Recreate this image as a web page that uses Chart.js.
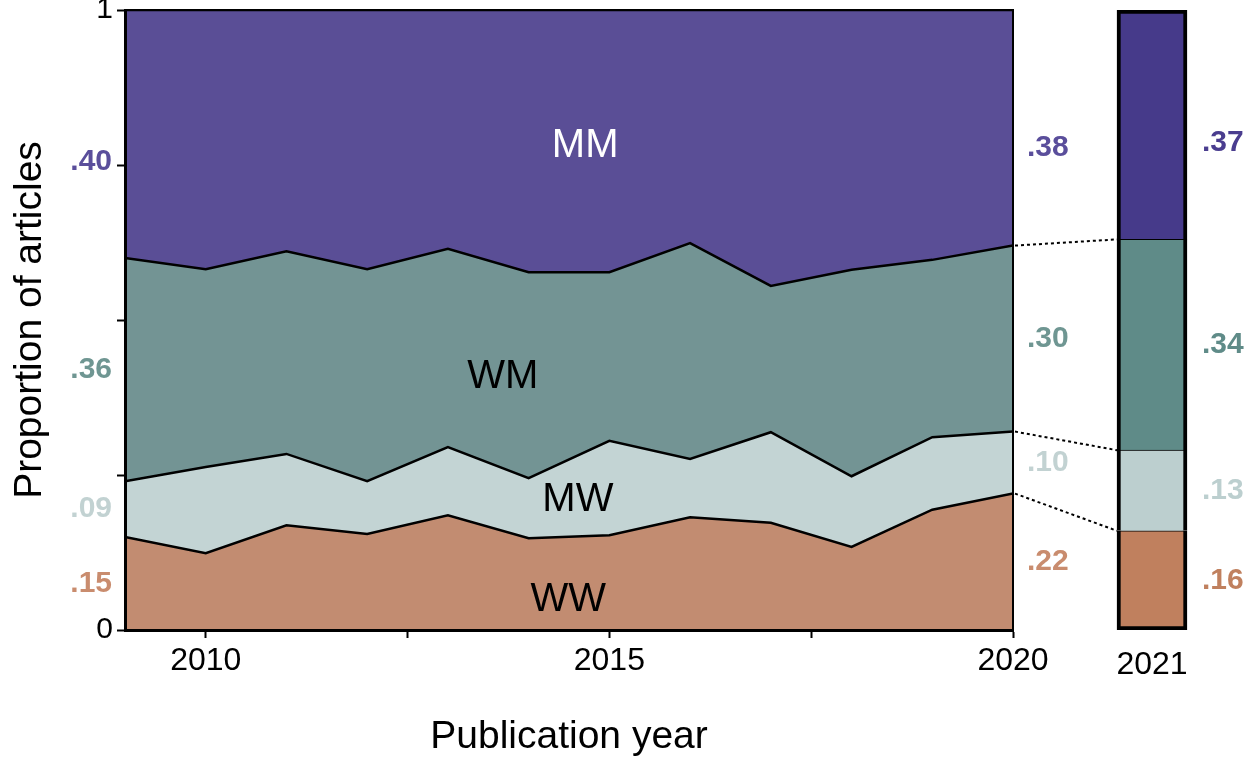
<!DOCTYPE html>
<html>
<head>
<meta charset="utf-8">
<script src="https://cdn.jsdelivr.net/npm/chart.js@4.4.1/dist/chart.umd.min.js"></script>
<style>
  body { margin: 0; background: #fff; }
  #wrap { position: relative; width: 1253px; height: 762px; }
  #wrap canvas { position: absolute; left: 0; top: 0; }
</style>
</head>
<body>
<div id="wrap">
  <canvas id="areaChart" width="1253" height="762"></canvas>
  <canvas id="barChart" width="1253" height="762"></canvas>
</div>
<script>
// data (proportion of articles per author-pair type)
const years = [2009, 2010, 2011, 2012, 2013, 2014, 2015, 2016, 2017, 2018, 2019, 2020];
const wwShare = [0.15, 0.124, 0.169, 0.155, 0.185, 0.148, 0.153, 0.182, 0.173, 0.134, 0.194, 0.22];
const mwShare = [0.09, 0.139, 0.115, 0.085, 0.110, 0.097, 0.152, 0.094, 0.146, 0.114, 0.117, 0.10];
const wmShare = [0.36, 0.319, 0.327, 0.342, 0.320, 0.332, 0.272, 0.348, 0.236, 0.333, 0.286, 0.30];
const mmShare = [0.40, 0.418, 0.389, 0.418, 0.385, 0.423, 0.423, 0.376, 0.445, 0.419, 0.403, 0.38];

const seriesNames = ["WW", "MW", "WM", "MM"];
const yearLabels2021 = ["2021"];
const share2021 = [0.16, 0.13, 0.34, 0.37]; // WW, MW, WM, MM

const xTicks = [2010, 2012.5, 2015, 2017.5, 2020];
const yTicks = [0, 0.25, 0.5, 0.75, 1];

// colours
const areaColors = ["#c28c71", "#c3d4d4", "#739494", "#5a4e96"];
const barColors = ["#c0805e", "#bccfcf", "#5f8b88", "#463a8a"];
const labelColors = ["#c98c6e", "#c2d2d2", "#6f9692", "#5a4e9b"];
const labelColors2021 = ["#c0805e", "#bccfcf", "#5f8b88", "#4a3d8f"];

// where the series names sit inside the areas (year, proportion)
const bandNames = [
    { text: "WW", year: 2014.49, value: 0.048, color: "#000" },
    { text: "MW", year: 2014.61, value: 0.21, color: "#000" },
    { text: "WM", year: 2013.68, value: 0.408, color: "#000" },
    { text: "MM", year: 2014.7, value: 0.78, color: "#fff" }
];

const FONT = "'Helvetica Neue', Helvetica, 'Liberation Sans', Arial, sans-serif";
const allShares = [wwShare, mwShare, wmShare, mmShare];

function fmt(v) {
    return v.toFixed(2).replace(/^0/, "");
}

// middle of each band for a column of shares
function bandMiddles(shares) {
    let mids = [];
    let base = 0;
    for (let i = 0; i < shares.length; i++) {
        mids.push(base + shares[i] / 2);
        base += shares[i];
    }
    return mids;
}

function cumulative(shares) {
    let out = [];
    let s = 0;
    for (let i = 0; i < shares.length; i++) {
        s += shares[i];
        out.push(s);
    }
    return out;
}

// labels drawn on the area chart
const areaDecor = {
    id: "areaDecor",
    afterDraw(chart) {
        const ctx = chart.ctx;
        const area = chart.chartArea;
        const x = chart.scales.x;
        const y = chart.scales.y;

        // top and right frame
        ctx.save();
        ctx.strokeStyle = "#000";
        ctx.lineWidth = 2;
        ctx.beginPath();
        ctx.moveTo(area.left, area.top);
        ctx.lineTo(area.right, area.top);
        ctx.lineTo(area.right, area.bottom);
        ctx.stroke();

        // names inside bands
        ctx.font = "40px " + FONT;
        ctx.textAlign = "center";
        ctx.textBaseline = "middle";
        bandNames.forEach(b => {
            ctx.fillStyle = b.color;
            ctx.fillText(b.text, x.getPixelForValue(b.year), y.getPixelForValue(b.value));
        });

        // first and last year values
        const first = allShares.map(s => s[0]);
        const last = allShares.map(s => s[s.length - 1]);
        const firstMid = bandMiddles(first);
        const lastMid = bandMiddles(last);
        ctx.font = "bold 30px " + FONT;
        for (let i = 0; i < first.length; i++) {
            const nudge = i === 3 ? 20 : 0;
            ctx.fillStyle = labelColors[i];
            ctx.textAlign = "right";
            ctx.fillText(fmt(first[i]), area.left - 13, y.getPixelForValue(firstMid[i]) + nudge + (i === 3 ? 8 : 0));
            ctx.textAlign = "left";
            ctx.fillText(fmt(last[i]), area.right + 14, y.getPixelForValue(lastMid[i]) + nudge);
        }
        ctx.restore();
    }
};

const areaChart = new Chart(document.getElementById("areaChart"), {
    type: "line",
    data: {
        labels: years,
        datasets: allShares.map((s, i) => ({
            label: seriesNames[i],
            data: years.map((yr, j) => ({ x: yr, y: s[j] })),
            backgroundColor: areaColors[i],
            borderColor: "#000",
            borderWidth: 2.5,
            fill: i === 0 ? "origin" : "-1",
            pointRadius: 0,
            tension: 0
        }))
    },
    options: {
        responsive: false,
        animation: false,
        events: [],
        layout: { padding: { top: 10, right: 240, left: 0, bottom: 0 } },
        plugins: {
            legend: { display: false },
            tooltip: { enabled: false }
        },
        scales: {
            x: {
                type: "linear",
                min: 2009,
                max: 2020,
                afterBuildTicks: s => { s.ticks = xTicks.map(v => ({ value: v })); },
                afterFit: s => { s.height = 132; s.paddingLeft = 0; s.paddingRight = 0; },
                ticks: {
                    callback: v => (v % 5 === 0 ? String(v) : ""),
                    font: { family: FONT, size: 32 },
                    color: "#000",
                    padding: 4,
                    maxRotation: 0,
                    autoSkip: false
                },
                grid: { drawOnChartArea: false, drawTicks: true, tickLength: 8, tickColor: "#000", tickWidth: 2 },
                border: { display: true, color: "#000", width: 3, z: 1 },
                title: {
                    display: true,
                    text: "Publication year",
                    font: { family: FONT, size: 39 },
                    color: "#000",
                    padding: { top: 0, bottom: 1 }
                }
            },
            y: {
                stacked: true,
                min: 0,
                max: 1,
                afterBuildTicks: s => { s.ticks = yTicks.map(v => ({ value: v })); },
                afterFit: s => { s.width = 125; s.paddingTop = 0; s.paddingBottom = 0; },
                ticks: {
                    callback: v => (v === 0 || v === 1 ? String(v) : ""),
                    font: { family: FONT, size: 30 },
                    color: "#000",
                    padding: 4
                },
                grid: { drawOnChartArea: false, drawTicks: true, tickLength: 8, tickColor: "#000", tickWidth: 2 },
                border: { display: true, color: "#000", width: 3, z: 1 },
                title: {
                    display: true,
                    text: "Proportion of articles",
                    font: { family: FONT, size: 39 },
                    color: "#000",
                    padding: { top: 7, bottom: 0 }
                }
            }
        }
    },
    plugins: [areaDecor]
});

// dotted connectors + 2021 labels
const barDecor = {
    id: "barDecor",
    afterDraw(chart) {
        const ctx = chart.ctx;
        const bar = chart.getDatasetMeta(0).data[0];
        const barLeft = bar.x - bar.width / 2;
        const barRight = bar.x + bar.width / 2;
        const ay = areaChart.scales.y;
        const ax = areaChart.scales.x;
        const by = chart.scales.y;
        const last = allShares.map(s => s[s.length - 1]);
        const cumLast = cumulative(last);
        const cum2021 = cumulative(share2021);

        ctx.save();
        ctx.strokeStyle = "#000";
        ctx.lineWidth = 2;
        ctx.setLineDash([3, 3]);
        for (let i = 0; i < 3; i++) {
            ctx.beginPath();
            ctx.moveTo(ax.getPixelForValue(2020) + 2, ay.getPixelForValue(cumLast[i]));
            ctx.lineTo(barLeft, by.getPixelForValue(cum2021[i]));
            ctx.stroke();
        }
        ctx.setLineDash([]);

        const mids = bandMiddles(share2021);
        ctx.font = "bold 30px " + FONT;
        ctx.textAlign = "left";
        ctx.textBaseline = "middle";
        for (let i = 0; i < share2021.length; i++) {
            const nudge = i === 3 ? 18 : 0;
            ctx.fillStyle = labelColors2021[i];
            ctx.fillText(fmt(share2021[i]), barRight + 15, by.getPixelForValue(mids[i]) + nudge);
        }
        ctx.restore();
    }
};

const segBorders = [
    { left: 4, right: 4, top: 1, bottom: 4 },
    { left: 4, right: 4, top: 1, bottom: 0 },
    { left: 4, right: 4, top: 1, bottom: 0 },
    { left: 4, right: 4, top: 4, bottom: 0 }
];

new Chart(document.getElementById("barChart"), {
    type: "bar",
    data: {
        labels: yearLabels2021,
        datasets: share2021.map((v, i) => ({
            label: seriesNames[i],
            data: [v],
            backgroundColor: barColors[i],
            borderColor: "#000",
            borderWidth: segBorders[i],
            borderSkipped: false,
            barThickness: 70
        }))
    },
    options: {
        responsive: false,
        animation: false,
        events: [],
        layout: { padding: { top: 10, right: 49, left: 1100, bottom: 0 } },
        plugins: {
            legend: { display: false },
            tooltip: { enabled: false }
        },
        scales: {
            x: {
                stacked: true,
                afterFit: s => { s.height = 132; },
                grid: { display: false },
                border: { display: false },
                ticks: {
                    font: { family: FONT, size: 32 },
                    color: "#000",
                    padding: 8
                }
            },
            y: {
                stacked: true,
                display: false,
                min: 0,
                max: 1
            }
        }
    },
    plugins: [barDecor]
});
</script>
</body>
</html>
